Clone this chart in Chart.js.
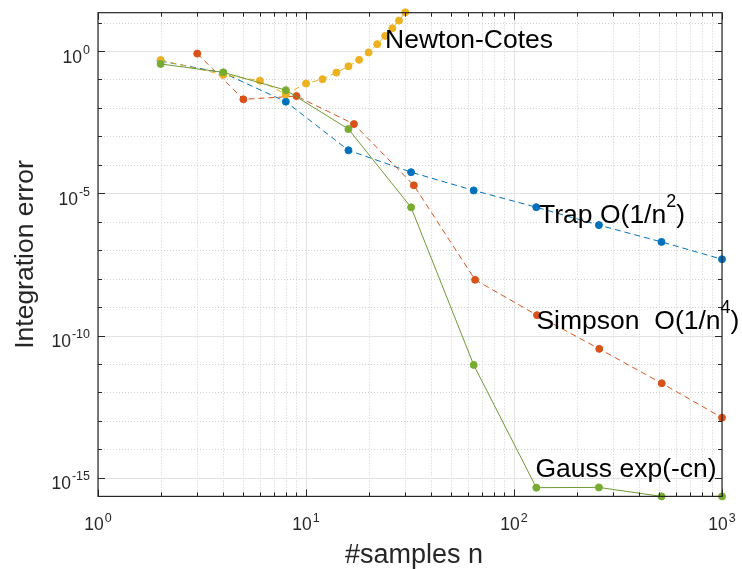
<!DOCTYPE html>
<html><head><meta charset="utf-8">
<script src="https://cdn.jsdelivr.net/npm/chart.js@4.4.1/dist/chart.umd.min.js"></script>
<style>html,body{margin:0;padding:0;background:#fff;}canvas{display:block;}</style>
</head><body>
<canvas id="c" width="742" height="569"></canvas>
<script>
// ---- data ----
const trapN   = [2, 4, 8, 16, 32, 64, 128, 256, 512, 1000];
const trapErr = [0.447, 0.170, 0.0166, 3.24e-4, 5.5e-5, 1.26e-5, 3.24e-6, 7.6e-7, 1.95e-7, 4.8e-8];

const simpN   = [3, 5, 9, 17, 33, 65, 129, 257, 513, 1000];
const simpErr = [0.81, 0.020, 0.026, 2.7e-3, 1.9e-5, 9.1e-9, 5.2e-10, 3.4e-11, 2.1e-12, 1.3e-13];

const ncN   = [2, 4, 6, 8, 10, 12, 14, 16, 18, 20, 22, 24, 26, 28, 30];
const ncErr = [0.48, 0.145, 0.091, 0.030, 0.072, 0.102, 0.174, 0.29, 0.49, 0.89, 1.74, 3.4, 6.3, 11.7, 22.9];

const gaussN   = [2, 4, 8, 16, 32, 64, 128, 256, 512, 1000];
const gaussErr = [0.35, 0.178, 0.042, 1.8e-3, 3.2e-6, 9.3e-12, 4.5e-16, 4.6e-16, 2.22e-16, 2.22e-16];

// axis ranges and tick labels
const xRange = [1, 1000];
const yRange = [2.22e-16, 22.2];
const xTickVals = [1, 10, 100, 1000];
const xTickExp  = ['0', '1', '2', '3'];
const yTickVals = [1, 1e-5, 1e-10, 1e-15];
const yTickExp  = ['0', '-5', '-10', '-15'];
const xTitle = '#samples n';
const yTitle = 'Integration error';

// text annotations (main text, superscript, tail) anchored in data coordinates
const annoMain = ['Newton-Cotes', 'Trap O(1/n', 'Simpson  O(1/n', 'Gauss exp(-cn)'];
const annoSup  = ['', '2', '4', ''];
const annoTail = ['', ')', ')', ''];
const annoN    = [24, 132, 128.2, 126.8];
const annoErr  = [1.245, 9.2e-7, 1.66e-10, 1.1e-15];

// minor tick positions
const xMinor = [];
for (let k = 0; k < 3; k++) for (let m = 2; m <= 9; m++) xMinor.push(m * Math.pow(10, k));
const yMinor = [];
for (let k = 1; k >= -14; k--) if (k % 5 !== 0) yMinor.push(Math.pow(10, k));

const FONT = '"Liberation Sans", Arial, Helvetica, sans-serif';
const AX = '#262626';

function seg(ctx, x1, y1, x2, y2) { ctx.beginPath(); ctx.moveTo(x1, y1); ctx.lineTo(x2, y2); ctx.stroke(); }

const axesPlugin = {
  id: 'matlabAxes',
  beforeDatasetsDraw(chart) {
    const {ctx, chartArea: a, scales: {x, y}} = chart;
    ctx.save();
    ctx.lineWidth = 1;
    // dotted minor grid
    ctx.strokeStyle = '#cfcfcf';
    ctx.setLineDash([1, 2]);
    xMinor.forEach(v => { const p = Math.round(x.getPixelForValue(v)) + 0.5; seg(ctx, p, a.top, p, a.bottom); });
    yMinor.forEach(v => { const p = Math.round(y.getPixelForValue(v)) + 0.5; seg(ctx, a.left, p, a.right, p); });
    // solid major grid
    ctx.setLineDash([]);
    ctx.strokeStyle = '#e2e2e2';
    xTickVals.forEach(v => { const p = Math.round(x.getPixelForValue(v)) + 0.5; seg(ctx, p, a.top, p, a.bottom); });
    yTickVals.forEach(v => { const p = Math.round(y.getPixelForValue(v)) + 0.5; seg(ctx, a.left, p, a.right, p); });
    ctx.restore();
  },
  afterDatasetsDraw(chart) {
    const {ctx, chartArea: a, scales: {x, y}} = chart;
    ctx.save();
    ctx.strokeStyle = AX;
    ctx.lineWidth = 1.2;
    // box
    ctx.strokeRect(a.left, a.top, a.right - a.left, a.bottom - a.top);
    ctx.lineWidth = 1;
    // x ticks (bottom and top, inward)
    const tick = (v, len) => {
      const p = Math.round(x.getPixelForValue(v)) + 0.5;
      seg(ctx, p, a.bottom, p, a.bottom - len);
      seg(ctx, p, a.top, p, a.top + len);
    };
    xTickVals.forEach(v => tick(v, 7));
    xMinor.forEach(v => tick(v, 4));
    const ytick = (v, len) => {
      const p = Math.round(y.getPixelForValue(v)) + 0.5;
      seg(ctx, a.left, p, a.left + len, p);
      seg(ctx, a.right, p, a.right - len, p);
    };
    yTickVals.forEach(v => ytick(v, 7));
    yMinor.forEach(v => ytick(v, 4));

    // tick labels with superscript exponents
    ctx.fillStyle = AX;
    ctx.textBaseline = 'alphabetic';
    ctx.textAlign = 'left';
    const bigF = '17.5px ' + FONT, supF = '12.5px ' + FONT;
    xTickVals.forEach((v, i) => {
      const p = x.getPixelForValue(v);
      ctx.font = bigF; const w1 = ctx.measureText('10').width;
      ctx.font = supF; const w2 = ctx.measureText(xTickExp[i]).width;
      const start = p - (w1 + 1 + w2) / 2;
      ctx.font = bigF; ctx.fillText('10', start, a.bottom + 34);
      ctx.font = supF; ctx.fillText(xTickExp[i], start + w1 + 1, a.bottom + 25.5);
    });
    yTickVals.forEach((v, i) => {
      const p = y.getPixelForValue(v);
      ctx.font = bigF; const w1 = ctx.measureText('10').width;
      ctx.font = supF; const w2 = ctx.measureText(yTickExp[i]).width;
      const end = a.left - 8;
      const start = end - (w1 + 1 + w2);
      ctx.font = bigF; ctx.fillText('10', start, p + 11.5);
      ctx.font = supF; ctx.fillText(yTickExp[i], start + w1 + 1, p + 2.5);
    });

    // axis titles
    ctx.font = '27px ' + FONT;
    ctx.textAlign = 'center';
    ctx.fillText(xTitle, (a.left + a.right) / 2 + 4, 563);
    ctx.font = '26.5px ' + FONT;
    ctx.save();
    ctx.translate(33, (a.top + a.bottom) / 2);
    ctx.rotate(-Math.PI / 2);
    ctx.fillText(yTitle, 0, 0);
    ctx.restore();

    // annotations
    ctx.fillStyle = '#000';
    ctx.textAlign = 'left';
    annoMain.forEach((t, i) => {
      let px = x.getPixelForValue(annoN[i]);
      const py = y.getPixelForValue(annoErr[i]);
      ctx.font = '26.5px ' + FONT;
      ctx.fillText(t, px, py);
      px += ctx.measureText(t).width;
      if (annoSup[i]) {
        ctx.font = '18px ' + FONT;
        ctx.fillText(annoSup[i], px, py - 16);
        px += ctx.measureText(annoSup[i]).width;
      }
      if (annoTail[i]) {
        ctx.font = '26.5px ' + FONT;
        ctx.fillText(annoTail[i], px, py);
      }
    });
    ctx.restore();
  }
};

function pts(nArr, eArr) { return nArr.map((n, i) => ({x: n, y: eArr[i]})); }

function ds(label, data, color, lineColor, dash) {
  return {
    label, data,
    borderColor: lineColor, backgroundColor: color,
    pointBackgroundColor: color, pointBorderColor: color,
    borderWidth: 1, borderDash: dash,
    pointRadius: 3.5, pointBorderWidth: 1, pointHoverRadius: 3.5,
    tension: 0, fill: false, clip: false
  };
}

new Chart(document.getElementById('c'), {
  type: 'line',
  data: {
    datasets: [
      ds('Gauss', pts(gaussN, gaussErr), '#77AC30', '#6f9a34', []),
      ds('Newton-Cotes', pts(ncN, ncErr), '#EDB120', '#EDB120', [6, 4]),
      ds('Simpson', pts(simpN, simpErr), '#D95319', '#D95319', [6, 4]),
      ds('Trap', pts(trapN, trapErr), '#0072BD', '#0072BD', [6, 4])
    ]
  },
  options: {
    responsive: false,
    devicePixelRatio: 1,
    animation: false,
    layout: {padding: {left: 98, right: 20, top: 12.7, bottom: 72.6}},
    plugins: {legend: {display: false}, tooltip: {enabled: false}},
    scales: {
      x: {type: 'logarithmic', min: xRange[0], max: xRange[1], display: false},
      y: {type: 'logarithmic', min: yRange[0], max: yRange[1], display: false}
    }
  },
  plugins: [axesPlugin]
});
</script>
</body></html>
